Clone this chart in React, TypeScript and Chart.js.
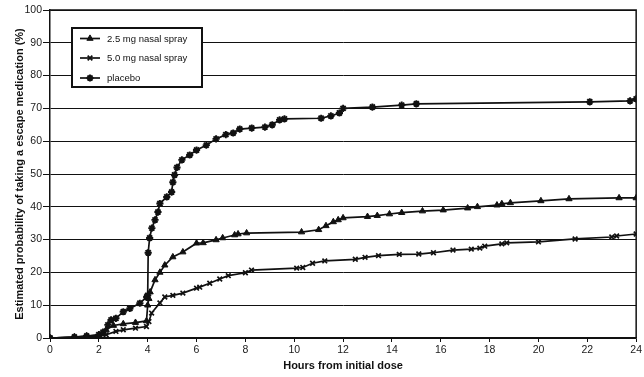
import React, { useEffect, useRef } from "react";
import { Chart, registerables } from "chart.js";
import { drawPoint } from "chart.js/helpers";

Chart.register(...registerables);

const seriesLabels = ["2.5 mg nasal spray", "5.0 mg nasal spray", "placebo"];
const seriesMarkers = ["triangle", "crossRot", "star"];

const dose25Hours = [0, 1, 1.5, 2, 2.3, 2.6, 3, 3.5, 3.95, 4, 4.05, 4.1, 4.3, 4.5, 4.7, 5.03, 5.44, 6, 6.27, 6.8, 7.07, 7.56, 7.7, 8.05, 10.3, 11, 11.3, 11.6, 11.8, 12, 13, 13.4, 13.9, 14.4, 15.25, 16.1, 17.1, 17.5, 18.3, 18.5, 18.85, 20.1, 21.25, 23.3, 24];
const dose25Pct = [0, 0.3, 0.6, 0.8, 2.5, 3.8, 4.3, 4.7, 5.2, 10, 12, 14, 17.7, 20, 22.2, 24.7, 26.2, 28.9, 29, 29.9, 30.5, 31.4, 31.7, 32, 32.3, 33, 34.2, 35.4, 36, 36.6, 37, 37.3, 37.8, 38.2, 38.7, 39, 39.6, 40, 40.5, 40.9, 41.2, 41.8, 42.4, 42.7, 42.7];

const dose50Hours = [0, 2, 2.3, 2.7, 3, 3.5, 3.95, 4.05, 4.16, 4.5, 4.7, 5.03, 5.44, 6, 6.13, 6.54, 6.95, 7.3, 8, 8.25, 10.1, 10.35, 10.75, 11.25, 12.5, 12.9, 13.45, 14.3, 15.1, 15.7, 16.5, 17.25, 17.6, 17.8, 18.5, 18.7, 20, 21.5, 23, 23.2, 24];
const dose50Pct = [0, 0.5, 1, 2, 2.5, 3, 3.5, 5, 7.6, 10.7, 12.5, 13, 13.7, 15.2, 15.5, 16.7, 18, 19, 19.9, 20.7, 21.3, 21.5, 22.8, 23.5, 24, 24.6, 25.1, 25.5, 25.6, 26, 26.8, 27.1, 27.4, 28, 28.7, 29, 29.3, 30.2, 30.8, 31.1, 31.7];

const placeboHours = [0, 1, 1.5, 2, 2.17, 2.37, 2.5, 2.7, 3, 3.27, 3.68, 3.96, 4, 4.02, 4.08, 4.17, 4.3, 4.42, 4.5, 4.78, 4.98, 5.03, 5.1, 5.2, 5.4, 5.72, 6, 6.4, 6.8, 7.2, 7.5, 7.77, 8.26, 8.8, 9.1, 9.4, 9.6, 11.1, 11.5, 11.85, 12, 13.2, 14.4, 15, 22.1, 23.75, 24];
const placeboPct = [0, 0.3, 0.6, 1, 1.8, 4, 5.5, 6, 8, 9, 10.6, 12.5, 13, 26, 30.5, 33.5, 36, 38.4, 41, 43, 44.5, 47.5, 49.7, 52, 54.3, 55.8, 57.3, 58.8, 60.7, 62, 62.5, 63.7, 64, 64.3, 65, 66.5, 66.8, 67, 67.7, 68.6, 70, 70.4, 71, 71.4, 72, 72.3, 72.9];

const xTitle = "Hours from initial dose";
const yTitle = "Estimated probability of taking a escape medication (%)";

const INK = "#111111";
const FONT = "'Liberation Sans', Arial, Helvetica, sans-serif";

function toPoints(xs: number[], ys: number[]) {
  return xs.map((x, i) => ({ x, y: ys[i] }));
}

const framePlugin = {
  id: "frame",
  beforeDatasetsDraw(chart: any) {
    const { ctx, chartArea } = chart;
    ctx.save();
    ctx.strokeStyle = INK;
    ctx.lineWidth = 1.5;
    ctx.beginPath();
    ctx.moveTo(chartArea.left, chartArea.top);
    ctx.lineTo(chartArea.right, chartArea.top);
    ctx.lineTo(chartArea.right, chartArea.bottom);
    ctx.stroke();
    ctx.restore();
  },
};

const boxLegendPlugin = {
  id: "boxLegend",
  afterDatasetsDraw(chart: any) {
    const { ctx } = chart;
    const bx = 72, by = 28, bw = 130, bh = 59;
    ctx.save();
    ctx.fillStyle = "#ffffff";
    ctx.fillRect(bx, by, bw, bh);
    ctx.strokeStyle = INK;
    ctx.lineWidth = 2;
    ctx.strokeRect(bx, by, bw, bh);
    const rows = [38.5, 58, 78];
    chart.data.datasets.forEach((ds: any, i: number) => {
      const y = rows[i];
      ctx.strokeStyle = INK;
      ctx.lineWidth = 1.7;
      ctx.beginPath();
      ctx.moveTo(80, y);
      ctx.lineTo(100, y);
      ctx.stroke();
      ctx.fillStyle = INK;
      ctx.strokeStyle = INK;
      ctx.lineWidth = ds.pointBorderWidth;
      drawPoint(ctx, { pointStyle: ds.pointStyle, radius: ds.pointRadius, rotation: 0, borderWidth: ds.pointBorderWidth }, 90, y);
      ctx.fillStyle = INK;
      ctx.font = `9.5px ${FONT}`;
      ctx.textAlign = "left";
      ctx.textBaseline = "middle";
      ctx.fillText(ds.label, 107, y + 0.5);
    });
    ctx.restore();
  },
};

export default function App() {
  const canvasRef = useRef<HTMLCanvasElement | null>(null);

  useEffect(() => {
    if (!canvasRef.current) return;
    const seriesData = [
      toPoints(dose25Hours, dose25Pct),
      toPoints(dose50Hours, dose50Pct),
      toPoints(placeboHours, placeboPct),
    ];
    const radii = [3.6, 3.3, 3.6];
    const bws = [1, 1.7, 1.9];
    const chart = new Chart(canvasRef.current, {
      type: "line",
      data: {
        datasets: seriesData.map((data, i) => ({
          label: seriesLabels[i],
          data,
          borderColor: INK,
          backgroundColor: INK,
          borderWidth: 1.7,
          tension: 0,
          pointStyle: seriesMarkers[i] as any,
          pointRadius: radii[i],
          pointBorderWidth: bws[i],
          pointBackgroundColor: INK,
          pointBorderColor: INK,
        })),
      },
      plugins: [framePlugin, boxLegendPlugin],
      options: {
        animation: false,
        responsive: false,
        maintainAspectRatio: false,
        layout: { padding: { top: 10, right: 7, left: 0, bottom: 0 } },
        plugins: {
          legend: { display: false },
          tooltip: { enabled: false },
        },
        scales: {
          x: {
            type: "linear",
            min: 0,
            max: 24,
            afterFit: (scale: any) => {
              scale.height = 39;
            },
            ticks: {
              stepSize: 2,
              color: "#1a1a1a",
              font: { family: FONT, size: 10.5 },
              padding: 2,
              maxRotation: 0,
            },
            grid: {
              drawOnChartArea: false,
              drawTicks: true,
              tickLength: 4,
              color: INK,
              lineWidth: 1,
            },
            border: { display: true, color: INK, width: 1.5 },
            title: {
              display: true,
              text: xTitle,
              color: INK,
              font: { family: FONT, size: 11, weight: "bold" },
              padding: { top: 0, bottom: 4 },
            },
          },
          y: {
            type: "linear",
            min: 0,
            max: 100,
            afterFit: (scale: any) => {
              scale.width = 50;
            },
            ticks: {
              stepSize: 10,
              color: "#1a1a1a",
              font: { family: FONT, size: 10.5 },
              padding: 1,
            },
            grid: {
              drawOnChartArea: true,
              drawTicks: true,
              tickLength: 7,
              color: INK,
              lineWidth: 1,
            },
            border: { display: true, color: INK, width: 1.5 },
            title: {
              display: true,
              text: yTitle,
              color: INK,
              font: { family: FONT, size: 11, weight: "bold" },
              padding: { top: 13.5, bottom: 0 },
            },
          },
        },
      },
    });
    return () => chart.destroy();
  }, []);

  return (
    <div style={{ position: "fixed", left: 0, top: 0, width: 644, height: 377, background: "#fff" }}>
      <canvas ref={canvasRef} width={644} height={377} style={{ width: 644, height: 377, display: "block" }} />
    </div>
  );
}
